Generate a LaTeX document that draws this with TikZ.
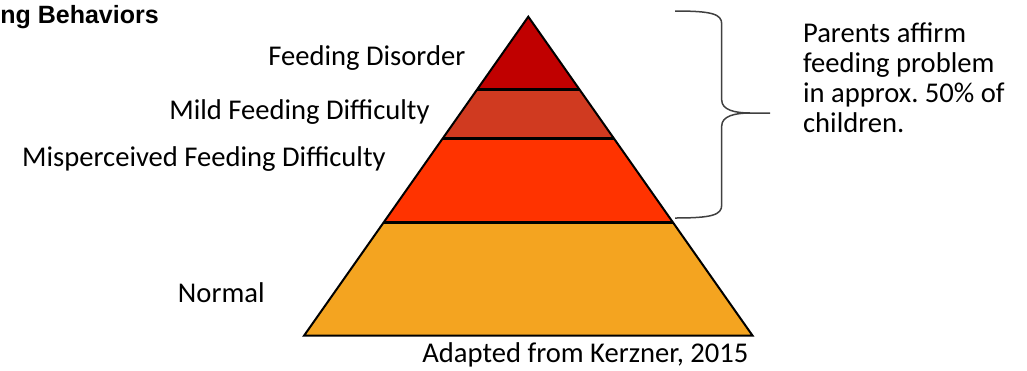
\documentclass[tikz,border=0pt]{standalone}
\usepackage{fontspec}
\setmainfont{Carlito}
\newfontfamily\titlefont{Liberation Sans}
\usepackage{xcolor}
\usetikzlibrary{calc,positioning}

\definecolor{disorder}{RGB}{192,0,0}
\definecolor{mild}{RGB}{208,58,32}
\definecolor{misperc}{RGB}{255,51,0}
\definecolor{normal}{RGB}{244,164,32}

\tikzset{
	label/.style={inner sep=0pt, font=\fontsize{14.3pt}{15pt}\selectfont},
	layer/.style={line width=1.2pt},
	brace/.style={draw=black!75, line width=0.75pt}
}

\begin{document}
\begin{tikzpicture}[x=0.5pt, y=-0.5pt, line join=miter]
		\useasboundingbox (0,0) rectangle (1027,370);

		\coordinate (apex) at (528.3,16.7);
		\coordinate (bl) at (304,335.7);
		\coordinate (br) at (752.6,335.7);

		\coordinate (l1) at ($(apex)!0.2276!(bl)$);
		\coordinate (r1) at ($(apex)!0.2276!(br)$);
		\coordinate (l2) at ($(apex)!0.3812!(bl)$);
		\coordinate (r2) at ($(apex)!0.3812!(br)$);
		\coordinate (l3) at ($(apex)!0.6445!(bl)$);
		\coordinate (r3) at ($(apex)!0.6445!(br)$);

		\fill[disorder] (apex) -- (r1) -- (l1) -- cycle;
		\fill[mild] (l1) -- (r1) -- (r2) -- (l2) -- cycle;
		\fill[misperc] (l2) -- (r2) -- (r3) -- (l3) -- cycle;
		\fill[normal] (l3) -- (r3) -- (br) -- (bl) -- cycle;

		\draw[layer] (l1) -- (r1);
		\draw[layer] (l2) -- (r2);
		\draw[layer] (l3) -- (r3);
		\draw[line width=1pt] (apex) -- (br) -- (bl) -- cycle;

		\node[label, anchor=base east] (fd) at (465.7,65) {Feeding Disorder};
		\node[label, anchor=base east] (mfd) at (430,119.3) {Mild Feeding Difficulty};
		\node[label, anchor=base east] (mpd) at (386,166.7) {Misperceived Feeding Difficulty};
		\node[label, anchor=base east] (norm) at (265,302) {Normal};
		\node[label, anchor=base west] (src) at (422,362.3) {Adapted from Kerzner, 2015};

		\node[inner sep=0pt, anchor=base west, font=\titlefont\bfseries\fontsize{12.5pt}{14pt}\selectfont] (title) at (0,23.5) {ng Behaviors};

		\coordinate (bt) at (675,11);
		\coordinate (bb) at (675,218);
		\coordinate (btip) at (770,113);
		\draw[brace] (bt) .. controls (712,11) and (721.7,14) .. (721.7,24) -- (721.7,100)
			.. controls (721.7,110) and (735,113) .. (750,113) -- (btip);
		\draw[brace] (750,113) .. controls (735,113) and (721.7,116) .. (721.7,126) -- (721.7,205)
			.. controls (721.7,215) and (712,218) .. (bb);

		\node[label, align=left, anchor=north west] (note) at (802.7,22) {Parents affirm\\feeding problem\\in approx.\ 50\% of\\children.};
	\end{tikzpicture}
\end{document}
